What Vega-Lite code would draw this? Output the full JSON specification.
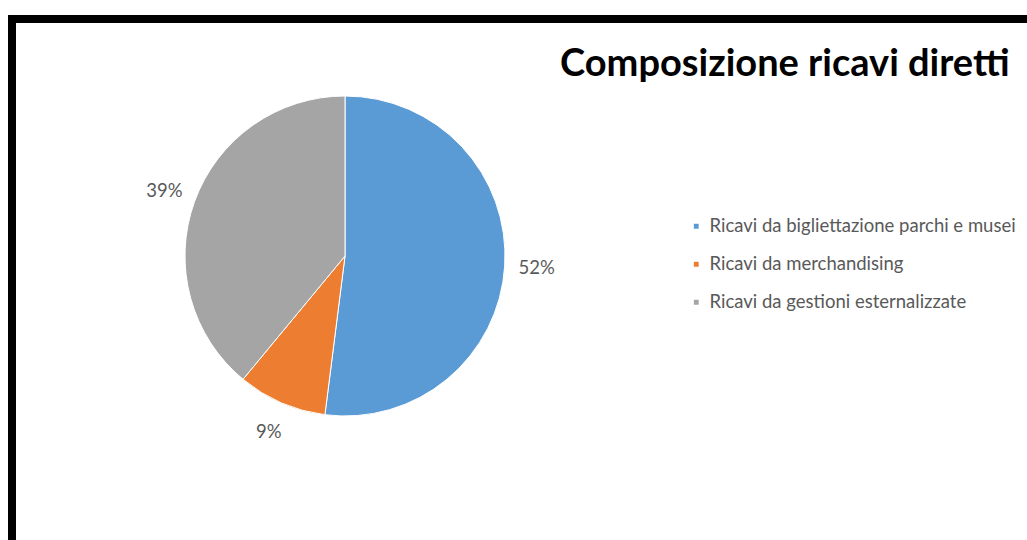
{
  "$schema": "https://vega.github.io/schema/vega-lite/v6.json",
  "background": "white",
  "padding": {"left": 6, "top": 13, "right": 0, "bottom": 0},
  "spacing": -8,
  "title": {
    "text": "Composizione ricavi diretti",
    "anchor": "end",
    "frame": "bounds",
    "offset": -101,
    "dx": -25,
    "baseline": "alphabetic",
    "font": "Lato",
    "fontWeight": "bold",
    "fontSize": 38,
    "color": "black"
  },
  "data": {
    "values": [
      {"voce": "Ricavi da bigliettazione parchi e musei", "quota": 0.52, "ordine": 1},
      {"voce": "Ricavi da merchandising", "quota": 0.09, "ordine": 2},
      {"voce": "Ricavi da gestioni esternalizzate", "quota": 0.39, "ordine": 3}
    ]
  },
  "config": {"view": {"stroke": null}, "font": "Lato"},
  "hconcat": [
    {
      "spacing": -10,
      "vconcat": [
        {
          "width": 666,
          "height": 474,
          "view": {"stroke": "black", "strokeWidth": 8, "strokeDash": [666, 1140, 474, 0], "strokeCap": "square"},
          "layer": [
            {
              "mark": {"type": "arc", "outerRadius": 160, "stroke": "white", "strokeWidth": 1},
              "encoding": {
                "theta": {"field": "quota", "type": "quantitative", "stack": true},
                "order": {"field": "ordine", "type": "quantitative"},
                "color": {
                  "field": "voce",
                  "type": "nominal",
                  "scale": {
                    "domain": ["Ricavi da bigliettazione parchi e musei", "Ricavi da merchandising", "Ricavi da gestioni esternalizzate"],
                    "range": ["#5B9BD5", "#ED7D31", "#A5A5A5"]
                  },
                  "legend": {
                    "title": null,
                    "orient": "none",
                    "legendX": 675,
                    "legendY": 198,
                    "symbolType": "square",
                    "symbolSize": 40,
                    "labelFont": "Lato",
                    "labelFontSize": 18.5,
                    "labelColor": "#595959",
                    "labelLimit": 400,
                    "rowPadding": 19,
                    "labelOffset": 4
                  }
                }
              }
            },
            {
              "mark": {"type": "text", "radius": 192, "fontSize": 18.5, "color": "#595959", "font": "Lato"},
              "encoding": {
                "theta": {"field": "quota", "type": "quantitative", "stack": true},
                "order": {"field": "ordine", "type": "quantitative"},
                "text": {"field": "quota", "type": "quantitative", "format": ".0%"}
              }
            }
          ]
        },
        {
          "width": 666,
          "height": 40,
          "view": {"stroke": "black", "strokeWidth": 8, "strokeDash": [0, 1372, 40, 0], "strokeCap": "square"},
          "mark": {"type": "text"},
          "encoding": {"text": {"value": ""}}
        }
      ]
    },
    {
      "width": 345,
      "height": 300,
      "view": {"stroke": "black", "strokeWidth": 8, "strokeDash": [345, 2000], "strokeCap": "square"},
      "mark": {"type": "text"},
      "encoding": {"text": {"value": ""}}
    }
  ]
}
